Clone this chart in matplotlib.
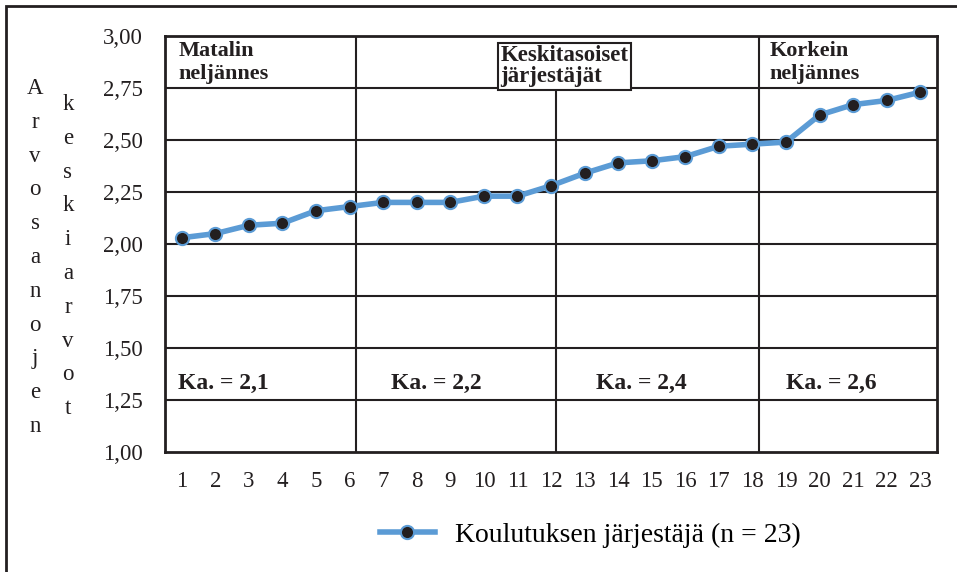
import matplotlib
matplotlib.use("Agg")
import matplotlib.pyplot as plt
from matplotlib.patches import Rectangle
from matplotlib.ticker import FuncFormatter

plt.rcParams['font.family'] = ['Liberation Serif', 'DejaVu Serif']

# Data
providers = list(range(1, 24))
means = [2.03, 2.05, 2.09, 2.10, 2.16, 2.18, 2.20, 2.20, 2.20, 2.23, 2.23, 2.28,
         2.34, 2.39, 2.40, 2.42, 2.47, 2.48, 2.49, 2.62, 2.67, 2.69, 2.73]
series_label = "Koulutuksen järjestäjä (n = 23)"
group_labels = ["Matalin\nneljännes", "Keskitasoiset\njärjestäjät", "Korkein\nneljännes"]
group_means = ["Ka. = 2,1", "Ka. = 2,2", "Ka. = 2,4", "Ka. = 2,6"]
y_ticks = [1.00, 1.25, 1.50, 1.75, 2.00, 2.25, 2.50, 2.75, 3.00]
ylabel1 = "Arvosanojen"
ylabel2 = "keskiarvot"

ink = '#231F20'
fig = plt.figure(figsize=(9.57, 5.72), dpi=100)
ax = fig.add_axes([165/957, 1-452/572, (937-165)/957, (452-36)/572])

blue = '#5B9BD5'
ax.plot(providers, means, color=blue, lw=4, marker='o', markersize=9.5,
        markerfacecolor=ink, markeredgecolor=blue, markeredgewidth=1.5,
        label=series_label, zorder=5)

ax.set_xlim(0.5, 23.5)
ax.set_ylim(1.0, 3.0)
ax.set_yticks(y_ticks)
ax.yaxis.set_major_formatter(FuncFormatter(lambda v, p: f"{v:.2f}".replace('.', ',')))
ax.set_xticks(providers)
ax.tick_params(axis='both', length=0, labelsize=16.5, colors=ink)
ax.tick_params(axis='x', pad=14)
ax.tick_params(axis='y', pad=16)
for s in ax.spines.values():
    s.set_linewidth(2)
    s.set_color(ink)

# horizontal grid
for yv in y_ticks[1:-1]:
    ax.axhline(yv, color=ink, lw=1.5, zorder=1)

# vertical separators
ax.axvline(6.2, color=ink, lw=1.5, zorder=1)
ax.axvline(18.2, color=ink, lw=1.5, zorder=1)
ax.plot([12.15, 12.15], [1.0, 2.75], color=ink, lw=1.5, zorder=1)

# group labels
ax.text(0.9, 2.975, group_labels[0], fontsize=16, fontweight='bold', va='top', ha='left',
        color=ink, linespacing=1.2)
ax.text(18.5, 2.975, group_labels[2], fontsize=16, fontweight='bold', va='top', ha='left',
        color=ink, linespacing=1.2)
ax.text(10.5, 2.955, group_labels[1], fontsize=16.5, fontweight='bold', va='top', ha='left',
        color=ink, linespacing=1.0, zorder=6,
        bbox=dict(boxstyle='square,pad=0.12', facecolor='white', edgecolor=ink, lw=1.5))

# group means
for xpos, txt in zip([0.9, 7.22, 13.35, 19.0], group_means):
    ax.text(xpos, 1.33, txt, fontsize=17, fontweight='bold', va='center', ha='left',
            color=ink)

# vertical y-axis label letters
fig.text(35/957, 1-78/572, "\n".join(ylabel1), ha='center', va='top', fontsize=16.5,
         linespacing=1.8, color=ink)
fig.text(68/957, 1-94/572, "\n".join(ylabel2), ha='center', va='top', fontsize=16.5,
         linespacing=1.8, color=ink)

# legend
fig.legend(loc='center', bbox_to_anchor=(0.6165, 1-535/572), frameon=False,
           fontsize=20, handlelength=2.0, handletextpad=0.7)

# outer border
fig.add_artist(Rectangle((6/957, -0.05), 1.2, 1-6/572+0.05, transform=fig.transFigure,
                         fill=False, edgecolor=ink, lw=2))

fig.savefig("out.png", dpi=100)
